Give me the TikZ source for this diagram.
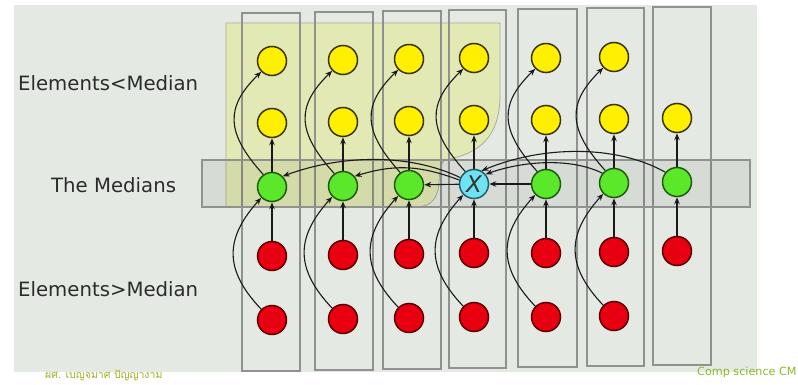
\documentclass[tikz,border=0pt]{standalone}
\usepackage{fontspec}
\setmainfont{DejaVu Sans}
\newfontfamily\thaifont[Script=Thai]{Loma}
\usetikzlibrary{arrows.meta}
\definecolor{panel}{HTML}{E4EAE3}
\definecolor{colline}{HTML}{8F928F}
\definecolor{yreg}{HTML}{E2E9B4}
\definecolor{yregline}{HTML}{A9AE8C}
\definecolor{ynode}{HTML}{FFEF00}
\definecolor{yline}{HTML}{3A3300}
\definecolor{gnode}{HTML}{5CE82A}
\definecolor{gline}{HTML}{1E5A10}
\definecolor{rnode}{HTML}{E80010}
\definecolor{rline}{HTML}{5A0000}
\definecolor{cnode}{HTML}{6FE3F2}
\definecolor{cline}{HTML}{1F5F6A}
\definecolor{arrc}{HTML}{1A1A1A}
\definecolor{labc}{HTML}{2B2B2B}
\definecolor{thaic}{HTML}{9DB020}
\definecolor{compc}{HTML}{8DB82A}
\begin{document}
\begin{tikzpicture}[x=1pt,y=-1pt,
  colbox/.style={draw=colline, line width=1.4pt},
  ball/.style={circle, minimum size=29pt, inner sep=0pt, line width=1.5pt},
  yel/.style={ball, fill=ynode, draw=yline},
  grn/.style={ball, fill=gnode, draw=gline},
  rd/.style={ball, fill=rnode, draw=rline},
  cy/.style={ball, fill=cnode, draw=cline},
  arr/.style={draw=arrc, line width=1.1pt, -{Stealth[length=7pt,width=5.5pt]}},
  lab/.style={font=\fontsize{19.7}{22}\selectfont, text=labc, inner sep=0pt, anchor=west}
]
\useasboundingbox (0,0) rectangle (798,385);
\fill[white] (0,0) rectangle (798,385);
\fill[panel] (14,5) rectangle (757,372);
% yellow region (elements < median)
\path[fill=yreg, draw=yregline, line width=0.8pt]
  (226,23) -- (500,23) -- (500,95)
  .. controls (500,145) and (470,155) .. (445,160)
  .. controls (438,165) and (440,180) .. (438,190)
  .. controls (435,202) and (428,207) .. (415,207)
  -- (226,207) -- cycle;
% columns
\foreach \l/\r/\t/\b in {242/300/13/371, 315/373/12/370, 383/441/11/369, 449/506/10/368, 518/577/9/367, 587/644/8/366, 653/711/7/365}
  \draw[colbox] (\l,\t) rectangle (\r,\b);
% median box
\draw[draw=colline, line width=1.4pt, fill=black, fill opacity=0.06] (202,160) rectangle (750,207);
% labels
\node[lab] (lless) at (18,83) {Elements<Median};
\node[lab] (lmed) at (51,185) {The Medians};
\node[lab] (lmore) at (18,289) {Elements>Median};
\node[anchor=west, inner sep=0pt, text=thaic, font=\thaifont\fontsize{10.5}{12}\selectfont] (author) at (45,375) {ผศ. เบญจมาศ ปัญญางาม};
\node[anchor=west, inner sep=0pt, text=compc, font=\fontsize{11.2}{13}\selectfont] (comp) at (697,372) {Comp science CM};
% nodes
\foreach \i/\x/\d in {1/272/0, 2/343/1, 3/409/2, 4/474/3, 5/546/3, 6/614/4} {
  \node[yel] (y\i) at ({\x},{61-\d}) {};
  \node[rd] (s\i) at ({\x},{320-\d}) {};
}
\foreach \i/\x/\d in {1/272/0, 2/343/1, 3/409/2, 4/474/3, 5/546/3, 6/614/4, 7/677/5} {
  \node[yel] (z\i) at ({\x},{123-\d}) {};
  \node[rd] (r\i) at ({\x},{256-\d}) {};
}
\foreach \i/\x/\d in {1/272/0, 2/343/1, 3/409/2, 5/546/3, 6/614/4, 7/677/5}
  \node[grn] (g\i) at ({\x},{187-\d}) {};
\node[cy, font=\fontsize{23}{23}\selectfont\itshape, text=black!80] (g4) at (474,184) {X};
% vertical arrows
\foreach \i in {1,...,7} {
  \draw[arr] (g\i) -- (z\i);
  \draw[arr] (r\i) -- (g\i);
}
% curved arrows inside columns
\foreach \i in {1,...,6} {
  \draw[arr] (g\i.125) .. controls +(-38,-42) and +(-36,35) .. (y\i.225);
  \draw[arr] (s\i.135) .. controls +(-38,-40) and +(-36,40) .. (g\i.225);
}
% arrows among the medians
\draw[arr] (g4) -- (g3);
\draw[arr] (g5) -- (g4);
\draw[arr] (g4.155) .. controls +(-50,-24) and +(60,-22) .. (g1.45);
\draw[arr] (g4.165) .. controls +(-40,-15) and +(40,-12) .. (g2.40);
\draw[arr] (g6.140) .. controls +(-30,-15) and +(40,-14) .. (g4.40);
\draw[arr] (g7.140) .. controls +(-50,-28) and +(60,-25) .. (g4.60);
\end{tikzpicture}
\end{document}
